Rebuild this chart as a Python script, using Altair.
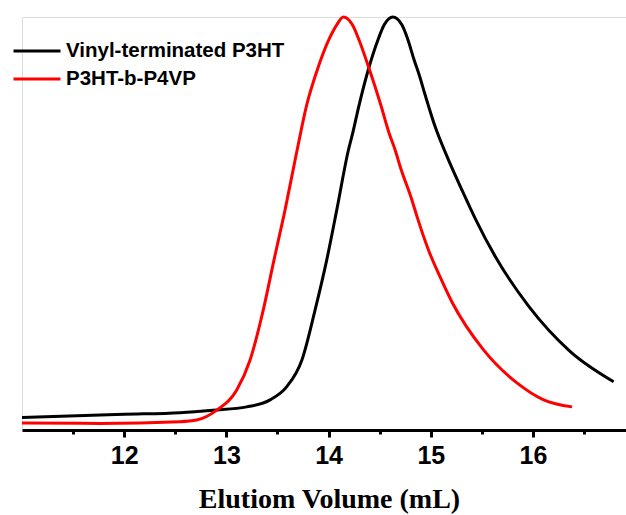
import altair as alt
import pandas as pd

# Series data (x: elution volume mL, y: normalized signal)
black_name = "Vinyl-terminated P3HT"
black_x = [11.0, 12.0, 12.546, 12.869, 13.199, 13.427, 13.591, 13.738, 13.868, 13.982, 14.08,
           14.194, 14.237, 14.292, 14.38, 14.488, 14.544, 14.629, 14.717, 14.772, 14.837,
           14.886, 14.945, 15.043, 15.173, 15.32, 15.435, 15.631, 15.957, 16.365, 16.789]
black_y = [0.030, 0.038, 0.042, 0.048, 0.056, 0.073, 0.105, 0.169, 0.291, 0.412, 0.533,
           0.678, 0.720, 0.780, 0.865, 0.948, 0.981, 1.0, 0.981, 0.948, 0.896,
           0.860, 0.811, 0.734, 0.654, 0.573, 0.512, 0.420, 0.300, 0.190, 0.117]

red_name = "P3HT-b-P4VP"
red_x = [11.0, 11.762, 12.546, 12.709, 12.905, 13.101, 13.231, 13.361, 13.466, 13.574, 13.692,
         13.786, 13.884, 14.008, 14.08, 14.145, 14.233, 14.292, 14.406, 14.511, 14.593,
         14.651, 14.7, 14.815, 14.87, 14.977, 15.092, 15.207, 15.516, 15.843, 16.104, 16.382]
red_y = [0.017, 0.016, 0.020, 0.024, 0.048, 0.097, 0.169, 0.291, 0.412, 0.533, 0.678,
         0.787, 0.868, 0.948, 0.981, 1.0, 0.981, 0.948, 0.868, 0.787, 0.718,
         0.678, 0.638, 0.557, 0.513, 0.436, 0.370, 0.310, 0.194, 0.114, 0.073, 0.056]

major_ticks = [12, 13, 14, 15, 16]
minor_ticks = [11.5, 12.5, 13.5, 14.5, 15.5, 16.5]

x_domain = [11.0, 16.91]

df = pd.concat([
    pd.DataFrame({"x": black_x, "y": black_y, "series": black_name, "order": 0}),
    pd.DataFrame({"x": red_x, "y": red_y, "series": red_name, "order": 1}),
])
minor_df = pd.DataFrame({"x": minor_ticks})

lines = alt.Chart(df).mark_line(strokeWidth=3, interpolate="monotone", clip=False).encode(
    x=alt.X("x:Q",
            scale=alt.Scale(domain=x_domain, nice=False, zero=False),
            axis=alt.Axis(
                orient="bottom",
                title="Elutiom Volume (mL)",
                values=major_ticks,
                format=".0f",
                grid=False, ticks=True,
                domainColor="black", domainWidth=3,
                tickColor="black", tickWidth=3, tickSize=7,
                labelFont="Liberation Sans", labelFontSize=25, labelFontWeight="bold",
                labelColor="black", labelPadding=6,
                titleFont="Liberation Serif", titleFontSize=28, titleFontWeight="bold",
                titleColor="black", titlePadding=17, titleX=307,
            )),
    y=alt.Y("y:Q", scale=alt.Scale(domain=[0, 1.0], nice=False, zero=True), axis=None),
    color=alt.Color("series:N",
                    scale=alt.Scale(domain=[black_name, red_name], range=["#000000", "#ff0000"]),
                    legend=alt.Legend(
                        title=None, orient="none", legendX=-10, legendY=24,
                        symbolType="stroke", symbolSize=2209, symbolStrokeWidth=3,
                        clipHeight=20, rowPadding=7, padding=0,
                        labelFont="Liberation Sans", labelFontSize=20.5, labelFontWeight="bold",
                        labelColor="black", labelOffset=4, labelLimit=0,
                    )),
    order="order:Q",
)

minor = alt.Chart(minor_df).mark_point(opacity=0).encode(
    x=alt.X("x:Q",
            scale=alt.Scale(domain=x_domain, nice=False, zero=False),
            axis=alt.Axis(
                orient="bottom", title=None, values=minor_ticks, labels=False,
                domain=False, grid=False, ticks=True,
                tickColor="black", tickWidth=3, tickSize=4,
            )),
    y=alt.value(0),
)

chart = alt.layer(lines, minor).resolve_axis(x="independent").properties(
    width=604, height=413,
    autosize=alt.AutoSizeParams(type="none"),
    padding={"left": 22, "top": 17, "right": 0, "bottom": 85},
).configure_view(stroke=None).configure(background="white")

chart.save("out.html", embed_options={"renderer": "svg", "actions": False})
